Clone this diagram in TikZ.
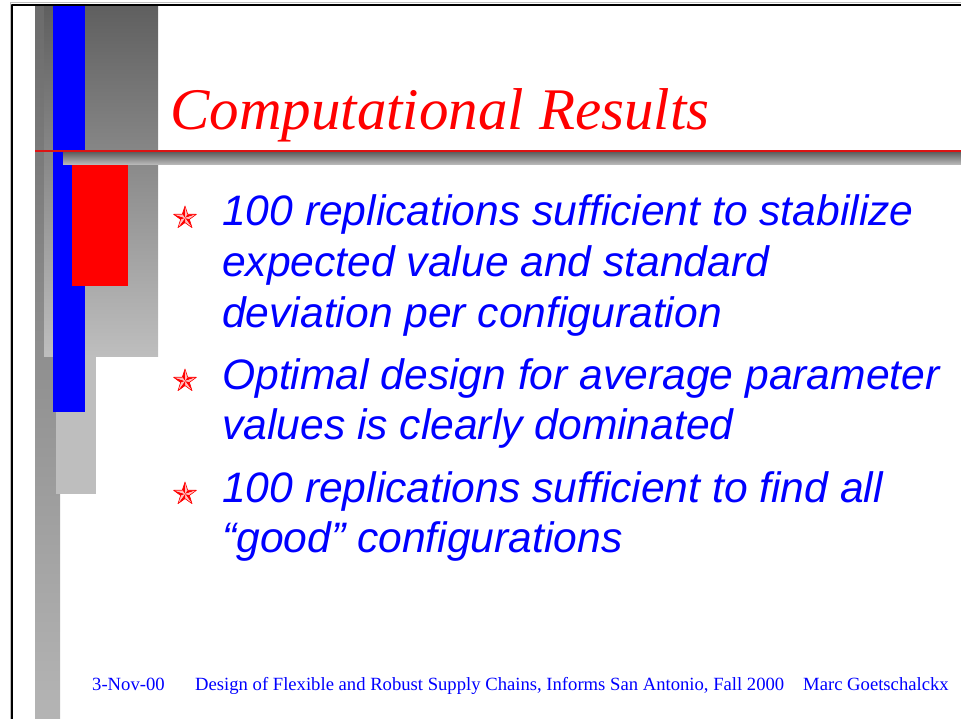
\documentclass[tikz,border=0pt]{standalone}
\usepackage{fontspec}
\setmainfont{Liberation Serif}
\newfontfamily\sansfont{Liberation Sans}
\usetikzlibrary{positioning}

\definecolor{slideblue}{RGB}{0,0,255}
\definecolor{slidered}{RGB}{255,0,0}
\definecolor{ruleRed}{RGB}{220,20,20}
\definecolor{darkgrey}{RGB}{95,95,95}
\definecolor{midgrey}{RGB}{107,107,107}
\definecolor{lightgrey}{RGB}{190,190,190}
\definecolor{pinkred}{RGB}{255,190,190}

\tikzset{
  titletext/.style={font=\fontsize{59}{70}\selectfont\itshape, text=slidered, inner sep=0, anchor=base west},
  bullettext/.style={font=\sansfont\fontsize{42.6}{50.5}\selectfont\itshape, text=slideblue, inner sep=0, anchor=base west},
  nextline/.style={bullettext, at={([yshift=-50.5pt]#1.base west)}},
  foottext/.style={font=\fontsize{18.65}{22}\selectfont, text=slideblue, inner sep=0, anchor=base west},
  starbullet/.pic={
    \foreach \k in {0,...,4}{
      \fill[red] (0,0) -- (-90+72*\k:12) -- (-126+72*\k:4.6) -- cycle;
      \fill[pinkred] (0,0) -- (-90+72*\k:12) -- (-54+72*\k:4.6) -- cycle;
    }
    \draw[red, line width=0.6] (-90:12) \foreach \k in {0,...,4}{ -- (-54+72*\k:4.6) -- (-18+72*\k:12)} -- cycle;
  }
}

\begin{document}
\begin{tikzpicture}[x=1pt, y=-1pt, line join=round]
\useasboundingbox (0,0) rectangle (961,719);
\shade[top color=midgrey, bottom color=lightgrey!95!black] (35,5) rectangle (60,719);
\fill[lightgrey] (56,5) rectangle (96,494);
\shade[top color=darkgrey, bottom color=lightgrey] (44,5) rectangle (158,356);
\fill[slideblue] (53,5) rectangle (85,151);
\fill[slideblue] (53,152) rectangle (85,412);
\shade[top color=darkgrey, bottom color=lightgrey] (63,152) rectangle (961,165);
\fill[slidered] (72,165) rectangle (128,286);
\draw[ruleRed, line width=1.2] (35,151) -- (961,151);
\draw[gray!50, line width=1] (10.5,719) -- (10.5,3) -- (961,3);
\draw[black, line width=2] (12,719) -- (12,5) -- (961,5);

\node[titletext] (title) at (170,130) {Computational Results};

\node[bullettext] (item1a) at (222,226) {100 replications sufficient to stabilize};
\node[nextline=item1a] (item1b) {expected value and standard};
\node[nextline=item1b] (item1c) {deviation per configuration};
\node[bullettext] (item2a) at (222,389) {Optimal design for average parameter};
\node[nextline=item2a] (item2b) {values is clearly dominated};
\node[bullettext] (item3a) at (222,502) {100 replications sufficient to find all};
\node[nextline=item3a] (item3b) {“good” configurations};

\pic (star1) at (185,218) {starbullet};
\pic (star2) at (185,381) {starbullet};
\pic (star3) at (185,494) {starbullet};

\node[foottext] (date) at (92,690) {3-Nov-00};
\node[foottext] (event) at (195,690) {Design of Flexible and Robust Supply Chains, Informs San Antonio, Fall 2000};
\node[foottext] (author) at (803,690) {Marc Goetschalckx};
\end{tikzpicture}
\end{document}
